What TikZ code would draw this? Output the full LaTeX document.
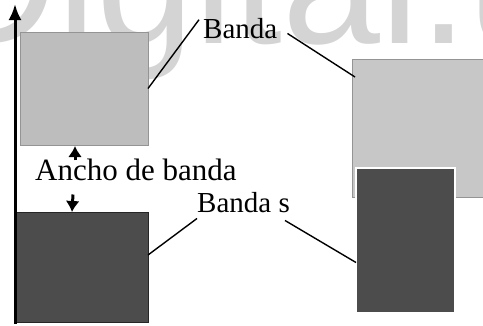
\documentclass[tikz,border=0pt]{standalone}
\usepackage{fontspec}
\setmainfont{Liberation Serif}
\newfontfamily\marksans{Liberation Sans}
\usetikzlibrary{arrows.meta,calc}
\begin{document}
\begin{tikzpicture}[x=1pt,y=-1pt,
  band/.style={rectangle, inner sep=0pt, outer sep=0pt},
  lightband/.style={band, fill=black!26, draw=black!42, line width=0.7pt},
  darkband/.style={band, fill=black!70, draw=black!85, line width=0.7pt},
  lbl/.style={inner sep=0pt, anchor=base west, font=\fontsize{29}{29}\selectfont},
  leader/.style={line width=1.4pt, black},
  gaparrow/.style={line width=3pt, -{Latex[length=11pt,width=14pt]}},
]
\useasboundingbox (0,0) rectangle (483,325);

% watermark lettering behind everything
\begin{scope}
  \clip (0,0) rectangle (483,325);
  \node[anchor=base west, inner sep=0pt, text=black!17,
        font=\marksans\fontsize{176}{176}\selectfont] (wm) at (-70,43) {Digital.u};
\end{scope}

% bands, left panel
\node[lightband, minimum width=128pt, minimum height=113pt] (lvb) at (84,88.5) {};
\node[darkband,  minimum width=133pt, minimum height=110pt] (ldb) at (81.5,267) {};

% bands, right panel (overlapping)
\node[lightband, fill=black!22, minimum width=140pt, minimum height=138pt] (rvb) at (422,128) {};
\node[darkband, draw=white, line width=2pt, minimum width=99pt, minimum height=145pt] (rdb) at (405.5,240.5) {};

% energy axis
\coordinate (axbot) at (15,324);
\coordinate (axtop) at (15,4);
\draw[line width=3pt, -{Latex[length=16pt,width=13pt]}] (axbot) -- (axtop);

% labels
\node[lbl] (bt) at (203,38) {Banda};
\node[lbl, font=\fontsize{31}{31}\selectfont] (gap) at (35,180) {Ancho de banda};
\node[lbl] (bs) at (197,212) {Banda s};

% leader lines
\draw[leader] ($(bt.north west)+(-4,2)$) -- (lvb.east);
\draw[leader] ($(bt.south east)+(10,-5)$) -- ($(rvb.north west)+(3,18)$);
\draw[leader] ($(bs.south west)+(0,6)$) -- ($(ldb.east)+(0,-12)$);
\draw[leader] ($(bs.south east)+(-5,8)$) -- ($(rdb.west)+(0,22)$);

% band gap arrows
\draw[gaparrow] ($(gap.north west)+(40,2)$) -- ($(lvb.south west)+(55,1)$);
\draw[gaparrow] ($(gap.south west)+(38,14)$) -- ($(ldb.north west)+(57,0)$);
\end{tikzpicture}
\end{document}
